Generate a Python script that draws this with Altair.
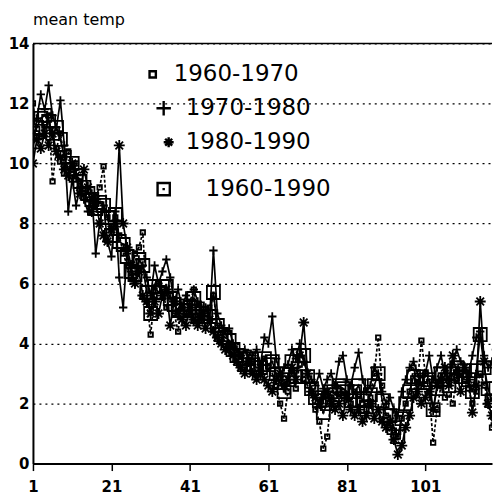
import altair as alt
import pandas as pd

days = list(range(1, 121))

s6070 = [12.0, 11.0, 10.9, 11.3, 11.6, 9.4, 10.5, 11.0, 10.2, 10.4,
         9.8, 10.0, 9.4, 9.0, 8.8, 8.6, 8.9, 9.2, 9.9, 8.2,
         7.8, 8.2, 7.6, 7.0, 6.6, 6.2, 7.0, 7.2, 7.7, 5.4,
         4.3, 5.6, 6.0, 5.8, 5.2, 5.6, 5.0, 4.4, 5.4, 5.0,
         5.4, 5.8, 4.8, 5.3, 5.0, 5.2, 5.6, 4.6, 4.2, 4.4,
         4.0, 3.9, 3.7, 3.6, 3.2, 3.7, 3.4, 3.0, 3.2, 3.5,
         3.2, 3.0, 2.6, 2.0, 1.5, 2.4, 3.1, 2.5, 3.3, 2.8,
         2.6, 2.4, 1.8, 1.4, 0.5, 0.9, 2.2, 2.6, 2.3, 2.4,
         2.2, 2.0, 2.4, 2.3, 2.0, 1.8, 2.2, 3.0, 4.2, 2.6,
         1.6, 1.2, 1.1, 0.9, 1.5, 2.0, 2.4, 3.2, 2.7, 4.1,
         3.0, 2.4, 0.7, 1.8, 2.6, 2.2, 2.3, 2.0, 2.8, 3.0,
         2.8, 2.5, 2.0, 2.4, 3.0, 2.6, 2.2, 1.2, 2.5, 2.7]

s7080 = [10.5, 11.5, 12.3, 11.8, 12.6, 11.6, 11.2, 12.1, 10.6, 8.4,
         9.5, 8.6, 9.2, 8.8, 8.4, 9.0, 7.0, 8.0, 8.6, 7.4,
         6.9, 8.4, 6.2, 5.2, 7.0, 6.4, 6.0, 6.8, 6.6, 6.2,
         5.6, 6.6, 6.0, 6.4, 6.8, 6.2, 5.4, 5.8, 5.2, 5.6,
         5.0, 5.8, 5.4, 4.8, 5.2, 4.8, 7.1, 5.0, 4.6, 4.4,
         4.5, 4.0, 3.8, 3.6, 3.8, 3.4, 3.6, 3.8, 3.3, 4.2,
         4.0, 4.9, 3.5, 3.0, 3.2, 3.3, 3.8, 3.5, 4.0, 3.4,
         3.0, 2.8, 2.6, 3.0, 2.5, 2.8, 3.0, 2.6, 3.4, 3.6,
         2.8, 2.6, 3.2, 3.7, 2.8, 2.4, 2.6, 3.2, 3.0, 2.4,
         2.0, 2.2, 1.8, 1.6, 2.4, 2.8, 3.2, 3.4, 3.0, 2.6,
         3.0, 3.6, 2.8, 3.2, 3.6, 3.0, 2.8, 3.3, 3.8, 3.4,
         3.2, 3.0, 3.6, 4.2, 4.4, 3.6, 3.2, 3.4, 3.8, 4.0]

s8090 = [10.0, 10.8, 10.5, 11.0, 10.6, 11.0, 10.4, 10.2, 9.8, 9.6,
         10.0, 9.6, 9.0, 9.8, 9.2, 8.4, 8.8, 8.0, 7.6, 7.4,
         7.8, 8.0, 10.6, 8.0, 7.2, 6.6, 6.0, 6.4, 5.6, 5.4,
         5.0, 5.4, 5.0, 5.6, 5.8, 4.6, 5.4, 5.0, 4.8, 4.6,
         5.2, 4.8, 4.6, 5.0, 4.5, 4.8, 4.4, 4.2, 4.0, 3.8,
         3.8, 3.6, 3.4, 3.2, 3.0, 3.4, 3.0, 2.8, 3.0, 2.8,
         2.6, 2.4, 2.8, 3.0, 2.6, 2.8, 3.2, 2.8, 3.6, 4.7,
         3.0, 2.4, 2.2, 2.0, 2.2, 2.4, 2.0, 1.8, 2.0, 1.6,
         2.2, 1.8, 1.6, 1.8, 1.4, 1.6, 2.0, 1.5, 1.8, 1.4,
         1.2, 1.4, 0.8, 0.3, 0.6, 1.2, 1.6, 2.2, 2.4, 2.0,
         2.2, 2.4, 1.8, 2.6, 2.8, 3.2, 2.6, 3.6, 3.0, 2.4,
         3.2, 2.8, 1.7, 2.6, 5.4, 3.4, 2.0, 1.6, 1.3, 2.2]

s6090 = [11.0, 11.2, 11.5, 11.6, 11.4, 11.0, 11.2, 10.8, 10.2, 9.8,
         10.0, 9.6, 9.4, 9.2, 9.0, 8.8, 8.5, 8.7, 8.6, 8.2,
         7.6, 8.3, 7.4, 7.3, 6.9, 6.4, 6.3, 6.8, 6.6, 5.7,
         5.0, 5.9, 5.7, 5.9, 5.9, 5.5, 5.3, 5.1, 5.1, 5.1,
         5.2, 5.5, 4.9, 5.0, 4.9, 4.9, 5.7, 4.6, 4.3, 4.2,
         4.1, 3.8, 3.6, 3.5, 3.3, 3.5, 3.3, 3.2, 3.2, 3.5,
         3.3, 3.4, 3.0, 2.7, 2.4, 2.8, 3.4, 2.9, 3.6, 3.6,
         2.9, 2.5, 2.2, 2.1, 1.7, 2.0, 2.4, 2.3, 2.6, 2.5,
         2.4, 2.1, 2.4, 2.6, 2.1, 1.9, 2.3, 2.6, 3.0, 2.1,
         1.6, 1.6, 1.2, 0.9, 1.5, 2.0, 2.4, 2.9, 2.7, 2.9,
         2.7, 2.8, 1.8, 2.5, 3.0, 2.8, 2.6, 3.0, 3.2, 2.9,
         3.1, 2.8, 2.4, 3.1, 4.3, 3.2, 2.5, 2.1, 2.5, 3.0]

series_names = ["1960-1970", "1970-1980", "1980-1990", "1960-1990"]
x_ticks = [1, 21, 41, 61, 81, 101]
y_ticks = [0, 2, 4, 6, 8, 10, 12, 14]
top_value = [14]

rows = []
for name, vals in zip(series_names, [s6070, s7080, s8090, s6090]):
    for d, v in zip(days, vals):
        rows.append({"day": d, "temp": v, "series": name})
df = pd.DataFrame(rows)

FONT = "DejaVu Sans"
BLACK = "black"

x_enc = alt.X("day:Q",
              scale=alt.Scale(domain=[1, 118], nice=False, zero=False),
              axis=alt.Axis(values=x_ticks, title=None, grid=False,
                            tickSize=7, tickWidth=1.5, labelPadding=9,
                            labelFlush=False))
y_enc = alt.Y("temp:Q",
              scale=alt.Scale(domain=[0, 14], nice=False),
              axis=alt.Axis(values=y_ticks, title=None, grid=True,
                            gridDash=[2, 4], gridColor=BLACK, gridWidth=1.3,
                            gridOpacity=1, tickSize=0, labelPadding=4))

square_small = "M-1,-1H1V1H-1Z"
plus = "M-1,0H1M0,-1V1"
asterisk = "M-1,0H1M0,-1V1M-0.7,-0.7L0.7,0.7M-0.7,0.7L0.7,-0.7"
square_dot = "M-1,-1H1V1H-1ZM-0.2,0H0.2"
shape_scale = alt.Scale(domain=series_names,
                        range=[square_small, plus, asterisk, square_dot])

lines = alt.Chart(df).mark_line(color=BLACK, strokeWidth=1.7, clip=True).encode(
    x=x_enc, y=y_enc,
    detail="series:N",
    strokeDash=alt.StrokeDash("series:N",
                              scale=alt.Scale(domain=series_names,
                                              range=[[3, 2], [1, 0], [1, 0], [1, 0]]),
                              legend=None),
)

points = alt.Chart(df).mark_point(filled=False, color=BLACK, strokeWidth=1.8,
                                  opacity=1, clip=True).encode(
    x=x_enc, y=y_enc,
    shape=alt.Shape("series:N", scale=shape_scale, legend=None),
    size=alt.Size("series:N",
                  scale=alt.Scale(domain=series_names, range=[20, 170, 110, 120]),
                  legend=None),
)

top_rule = alt.Chart(pd.DataFrame({"temp": top_value})).mark_rule(
    color=BLACK, strokeWidth=1.5).encode(y=alt.Y("temp:Q"))

# hand-placed legend (entries are irregularly indented in the original)
legend_symbol_x = [120, 131, 136, 131]
legend_text_x = [141, 153, 153, 173]
legend_y = [31, 65, 99, 146]
legend_symbol_size = [40, 210, 100, 150]

legend_layers = []
for i, name in enumerate(series_names):
    entry = pd.DataFrame({"series": [name]})
    legend_layers.append(
        alt.Chart(entry).mark_point(filled=False, color=BLACK, strokeWidth=2.4,
                                    opacity=1).encode(
            x=alt.value(legend_symbol_x[i]), y=alt.value(legend_y[i]),
            shape=alt.Shape("series:N", scale=shape_scale, legend=None),
            size=alt.value(legend_symbol_size[i]),
        )
    )
    legend_layers.append(
        alt.Chart(entry).mark_text(align="left", baseline="middle", font=FONT,
                                   fontSize=23, color=BLACK).encode(
            x=alt.value(legend_text_x[i]), y=alt.value(legend_y[i]),
            text="series:N",
        )
    )

chart = alt.layer(lines, points, top_rule, *legend_layers).properties(
    width=460, height=421,
    padding={"left": 0, "top": 4, "right": 0, "bottom": 0},
    title=alt.TitleParams("mean temp", anchor="start", frame="group",
                          font=FONT, fontSize=16, fontWeight="normal",
                          color=BLACK, offset=8),
).configure_view(stroke=None).configure_axis(
    domainColor=BLACK, domainWidth=2, tickColor=BLACK,
    labelFont=FONT, labelFontSize=15, labelFontWeight="bold", labelColor=BLACK,
)

chart.save("out.html", embed_options={"renderer": "svg", "actions": False})
